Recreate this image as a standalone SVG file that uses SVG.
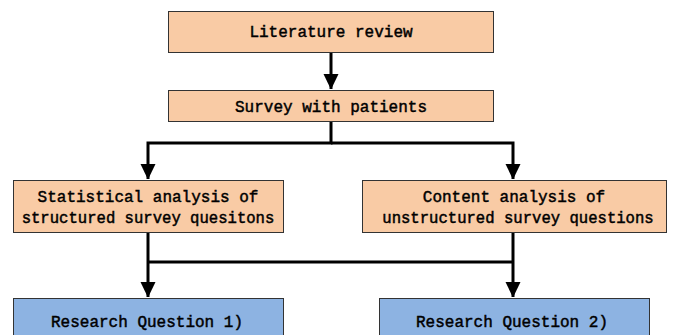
<svg xmlns="http://www.w3.org/2000/svg" width="673" height="335" viewBox="0 0 673 335">
<style>
.o{fill:#F9CBA5;stroke:#333;stroke-width:1}
.b{fill:#8DB3E2;stroke:#333;stroke-width:1}
text{font-family:"Liberation Mono","DejaVu Sans Mono",monospace;font-size:16px;fill:#000;stroke:#000;stroke-width:0.45;text-anchor:middle}
.c{fill:none;stroke:#000;stroke-width:3}
</style>
<defs>
<marker id="ah" markerWidth="5" markerHeight="5.4" refX="5" refY="2.5" orient="auto" markerUnits="strokeWidth">
<path d="M0,0 L5.2,2.5 L0,5 Z" fill="#000"/>
</marker>
</defs>
<rect width="673" height="335" fill="#fff"/>
<g id="connectors">
<path class="c" d="M331,53 V89" marker-end="url(#ah)"/>
<path class="c" d="M331,122 V143 H148 V179" marker-end="url(#ah)"/>
<path class="c" d="M331,143 H513 V179" marker-end="url(#ah)"/>
<path class="c" d="M148,233 V297" marker-end="url(#ah)"/>
<path class="c" d="M513,233 V297" marker-end="url(#ah)"/>
<path class="c" d="M148,262 H513"/>
</g>
<g id="lit"><rect class="o" x="168.5" y="11.5" width="325" height="41"/><text x="331" y="37">Literature review</text></g>
<g id="survey"><rect class="o" x="168.5" y="90.5" width="325" height="31"/><text x="331" y="112">Survey with patients</text></g>
<g id="stat"><rect class="o" x="13.5" y="180.5" width="270" height="52"/><text x="148" y="202">Statistical analysis of</text><text x="148" y="223" style="font-size:15.6px">structured survey quesitons</text></g>
<g id="content"><rect class="o" x="362.5" y="180.5" width="304" height="52"/><text x="514" y="202">Content analysis of</text><text x="518" y="223" style="font-size:15.6px">unstructured survey questions</text></g>
<g id="rq1"><rect class="b" x="13.5" y="298.5" width="270" height="40"/><text x="147" y="327">Research Question 1)</text></g>
<g id="rq2"><rect class="b" x="379.5" y="298.5" width="270" height="40"/><text x="512" y="327">Research Question 2)</text></g>
</svg>
